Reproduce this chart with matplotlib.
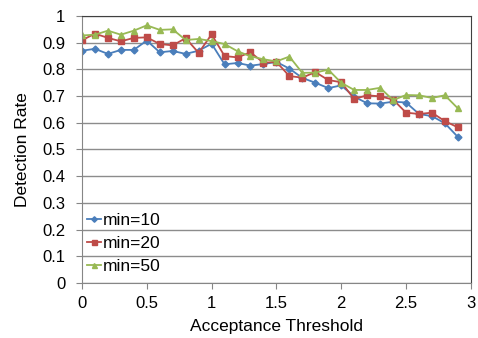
import numpy as np
import matplotlib
matplotlib.use("Agg")
from matplotlib import pyplot as plt

plt.rcParams['font.family'] = ['Liberation Sans', 'DejaVu Sans']

umbral = np.round(np.arange(0, 3.0, 0.1), 1)

min10 = [0.870, 0.877, 0.858, 0.873, 0.873, 0.908, 0.864, 0.869, 0.858, 0.870,
         0.896, 0.819, 0.824, 0.814, 0.820, 0.828, 0.803, 0.768, 0.750, 0.730,
         0.740, 0.698, 0.673, 0.672, 0.679, 0.676, 0.633, 0.625, 0.598, 0.547]
min20 = [0.909, 0.934, 0.918, 0.905, 0.918, 0.920, 0.895, 0.890, 0.917, 0.862,
         0.931, 0.850, 0.845, 0.864, 0.825, 0.828, 0.775, 0.769, 0.790, 0.760,
         0.752, 0.689, 0.703, 0.699, 0.687, 0.638, 0.633, 0.638, 0.606, 0.583]
min50 = [0.927, 0.930, 0.945, 0.930, 0.945, 0.965, 0.948, 0.950, 0.910, 0.914,
         0.906, 0.895, 0.868, 0.849, 0.838, 0.830, 0.848, 0.787, 0.788, 0.799,
         0.750, 0.723, 0.723, 0.731, 0.685, 0.704, 0.703, 0.693, 0.703, 0.654]

series = [("min=10", min10, "#4A7EBB", "D", 3.5),
          ("min=20", min20, "#BE4B48", "s", 4.5),
          ("min=50", min50, "#98B954", "^", 4.5)]

fig = plt.figure(figsize=(4.78, 3.38), dpi=100)
ax = fig.add_axes([0.1715, 0.1627, 0.8135, 0.79])

for nombre, valores, color, marca, tam in series:
    ax.plot(umbral, valores, color=color, marker=marca, markersize=tam,
            linewidth=1.3, label=nombre)

ax.set_xlim(0, 3)
ax.set_ylim(0, 1)
ax.set_xticks(np.arange(0, 3.01, 0.5))
ax.set_xticklabels(["0", "0.5", "1", "1.5", "2", "2.5", "3"])
ax.set_yticks(np.arange(0, 1.01, 0.1))
ax.set_yticklabels(["0", "0.1", "0.2", "0.3", "0.4", "0.5", "0.6", "0.7", "0.8", "0.9", "1"])
ax.yaxis.grid(True, color="#8c8c8c", linewidth=1)
ax.set_axisbelow(True)
ax.tick_params(direction="out", length=4, color="#868686", labelsize=12)
ax.tick_params(axis="x", pad=5)
ax.tick_params(axis="y", pad=8)

for lado in ["left", "bottom"]:
    ax.spines[lado].set_color("#868686")
for lado in ["top", "right"]:
    ax.spines[lado].set_color("#404040")

ax.set_xlabel("Acceptance Threshold", fontsize=12.5, labelpad=6)
ax.set_ylabel("Detection Rate", fontsize=12.5, labelpad=9)

ax.legend(loc="lower left", frameon=False, fontsize=12.5, handlelength=0.8,
          handletextpad=0.1, labelspacing=0.45, borderaxespad=0.0,
          borderpad=0.3, markerscale=0.8, bbox_to_anchor=(0.0, 0.015))

fig.savefig("out.png", dpi=100)
